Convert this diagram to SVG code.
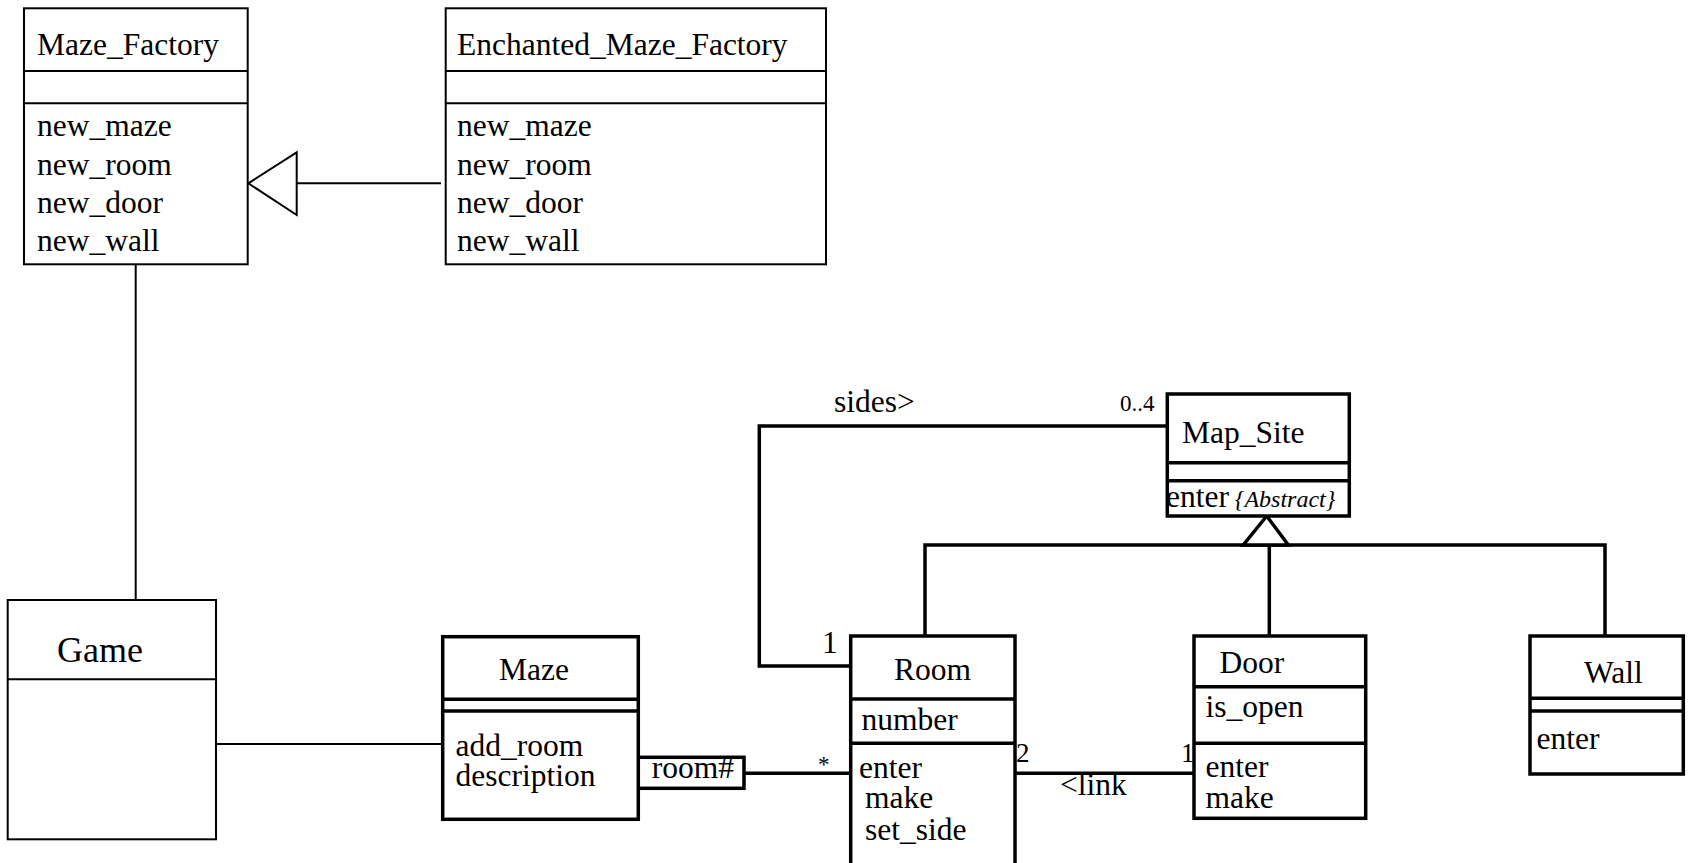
<svg xmlns="http://www.w3.org/2000/svg" width="1689" height="863" viewBox="0 0 1689 863" font-family="'Liberation Serif', Tinos, 'Times New Roman', 'DejaVu Serif', serif">
  <style>
    text { font-family: "Liberation Serif", Tinos, "Times New Roman", "DejaVu Serif", serif; fill: #000; font-size: 31.5px; }
    .thin { fill: #fff; stroke: #000; stroke-width: 2; }
    .thick { fill: #fff; stroke: #000; stroke-width: 3.5; }
    .tline { fill: none; stroke: #000; stroke-width: 2; }
    .kline { fill: none; stroke: #000; stroke-width: 3.5; }
    .big { font-size: 36px; }
    .mult { font-size: 23px; }
    .mult2 { font-size: 27px; }
    .constraint { font-size: 24px; font-style: italic; }
  </style>
  <rect width="1689" height="863" fill="#fff"/>

  <!-- associations, generalizations and their labels -->
  <g id="connectors">
    <line class="tline" x1="135.7" y1="264" x2="135.7" y2="600"/>
    <line class="tline" x1="216" y1="744" x2="442" y2="744"/>
    <line class="tline" x1="296.7" y1="183.3" x2="441" y2="183.3"/>
    <polygon class="thin" points="248.3,183.3 296.7,152.3 296.7,215"/>

    <polyline class="kline" points="1167,426 759.3,426 759.3,666 850,666"/>
    <text x="834" y="412.3" font-size="30">sides&gt;</text>
    <text class="mult" x="1120" y="410.7">0..4</text>
    <text x="822" y="653.3" font-size="24">1</text>

    <rect class="thick" x="637.3" y="757.3" width="106.7" height="31"/>
    <text x="651.7" y="778.3" font-size="31">room#</text>
    <line class="kline" x1="744" y1="773.3" x2="850" y2="773.3"/>
    <text class="mult" x="818" y="772">*</text>

    <line class="kline" x1="1015" y1="773.3" x2="1194" y2="773.3"/>
    <text class="mult2" x="1016" y="761.7">2</text>
    <text class="mult2" x="1181" y="761.7">1</text>
    <text x="1060" y="795" font-size="30">&lt;link</text>

    <polyline class="kline" points="925,636 925,545 1605,545 1605,636"/>
    <line class="kline" x1="1269.3" y1="545" x2="1269.3" y2="636"/>
    <polygon class="thick" points="1266.7,516 1243.3,545 1288.3,545"/>
  </g>

  <g id="maze-factory">
    <rect class="thin" x="24" y="8.3" width="223.7" height="256"/>
    <line class="tline" x1="24" y1="71" x2="247.7" y2="71"/>
    <line class="tline" x1="24" y1="103.3" x2="247.7" y2="103.3"/>
    <text x="37" y="55">Maze_Factory</text>
    <text x="37" y="136">new_maze</text>
    <text x="37" y="175">new_room</text>
    <text x="37" y="213">new_door</text>
    <text x="37" y="251">new_wall</text>
  </g>

  <g id="enchanted-maze-factory">
    <rect class="thin" x="445.7" y="8.3" width="380.3" height="256"/>
    <line class="tline" x1="445.7" y1="71" x2="826" y2="71"/>
    <line class="tline" x1="445.7" y1="103.3" x2="826" y2="103.3"/>
    <text x="457" y="55">Enchanted_Maze_Factory</text>
    <text x="457" y="136">new_maze</text>
    <text x="457" y="175">new_room</text>
    <text x="457" y="213">new_door</text>
    <text x="457" y="251">new_wall</text>
  </g>

  <g id="game">
    <rect class="thin" x="7.7" y="600" width="208.3" height="239.3"/>
    <line class="tline" x1="7.7" y1="679.3" x2="216" y2="679.3"/>
    <text class="big" x="57" y="661.7">Game</text>
  </g>

  <g id="maze">
    <rect class="thick" x="442.7" y="636.7" width="195.6" height="182.6"/>
    <line class="kline" x1="442.7" y1="699.3" x2="638.3" y2="699.3"/>
    <line class="kline" x1="442.7" y1="711" x2="638.3" y2="711"/>
    <text x="499" y="680">Maze</text>
    <text x="455.5" y="756" font-size="31">add_room</text>
    <text x="455.5" y="786" font-size="31">description</text>
  </g>

  <g id="map-site">
    <rect class="thick" x="1167.3" y="394" width="182" height="122"/>
    <line class="kline" x1="1167.3" y1="462.7" x2="1349.3" y2="462.7"/>
    <line class="kline" x1="1167.3" y1="480.7" x2="1349.3" y2="480.7"/>
    <text x="1182" y="442.7">Map_Site</text>
    <text x="1166" y="506.7" font-size="30">enter <tspan class="constraint" dx="-2">{Abstract}</tspan></text>
  </g>

  <g id="room">
    <path class="kline" d="M850.7,880 V636 H1015 V880"/>
    <line class="kline" x1="850.7" y1="699" x2="1015" y2="699"/>
    <line class="kline" x1="850.7" y1="743.3" x2="1015" y2="743.3"/>
    <text x="894" y="680">Room</text>
    <text x="861.5" y="730">number</text>
    <text x="859" y="778.3">enter</text>
    <text x="865" y="808.3">make</text>
    <text x="865" y="840">set_side</text>
  </g>

  <g id="door">
    <rect class="thick" x="1194" y="636" width="171.7" height="182.3"/>
    <line class="kline" x1="1194" y1="686.7" x2="1365.7" y2="686.7"/>
    <line class="kline" x1="1194" y1="743.3" x2="1365.7" y2="743.3"/>
    <text x="1219.5" y="672.7">Door</text>
    <text x="1205.5" y="717.3">is_open</text>
    <text x="1205.5" y="776.7">enter</text>
    <text x="1205.5" y="808.3">make</text>
  </g>

  <g id="wall">
    <rect class="thick" x="1530" y="636" width="153.3" height="138"/>
    <line class="kline" x1="1530" y1="698.3" x2="1683.3" y2="698.3"/>
    <line class="kline" x1="1530" y1="711" x2="1683.3" y2="711"/>
    <text x="1584" y="682.7">Wall</text>
    <text x="1536.5" y="749.3" font-size="30">enter</text>
  </g>
</svg>
